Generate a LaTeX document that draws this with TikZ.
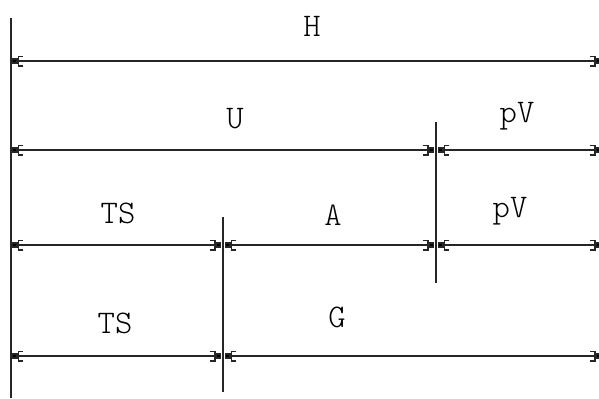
\documentclass[tikz,border=0pt]{standalone}
\usetikzlibrary{arrows.meta}
\tikzset{
  ink/.style={line width=1.4bp, draw=black!85},
  wall/.style={ink},
  sq/.tip={Square[length=5.5bp,width=5.5bp,fill=black]},
  br/.tip={Bracket[width=11bp,length=5bp,line width=1.4bp]},
  dimline/.style={ink, {sq[] br[]}-{br[] sq[]}},
  lbl/.style={anchor=base, inner sep=0pt, font=\fontseries{l}\ttfamily\fontsize{33bp}{33bp}\selectfont, text=black}
}
\begin{document}
\begin{tikzpicture}[x=1bp,y=-1bp]
\useasboundingbox (0,0) rectangle (599,398);
% walls
\coordinate (w0t) at (11,18);   \coordinate (w0b) at (11,398);
\coordinate (w1t) at (223,217); \coordinate (w1b) at (223,392);
\coordinate (w2t) at (436,122); \coordinate (w2b) at (436,283);
\draw[wall] (w0t) -- (w0b);
\draw[wall] (w1t) -- (w1b);
\draw[wall] (w2t) -- (w2b);
% line end points
\coordinate (h0) at (12,61);  \coordinate (h1) at (601,61);
\coordinate (u0) at (12,150); \coordinate (u1) at (434,150);
\coordinate (p0) at (438,150); \coordinate (p1) at (601,150);
\coordinate (t0) at (12,245); \coordinate (t1) at (221,245);
\coordinate (a0) at (225,245); \coordinate (a1) at (434,245);
\coordinate (q0) at (438,245); \coordinate (q1) at (601,245);
\coordinate (s0) at (12,356); \coordinate (s1) at (221,356);
\coordinate (g0) at (225,356); \coordinate (g1) at (601,356);
\draw[dimline] (h0) -- (h1);
\draw[dimline] (u0) -- (u1);
\draw[dimline] (p0) -- (p1);
\draw[dimline] (t0) -- (t1);
\draw[dimline] (a0) -- (a1);
\draw[dimline] (q0) -- (q1);
\draw[dimline] (s0) -- (s1);
\draw[dimline] (g0) -- (g1);
% labels
\node[lbl] (lH) at (312,36) {H};
\node[lbl] (lU) at (235,128) {U};
\node[lbl] (lpV1) at (517,122) {pV};
\node[lbl] (lTS1) at (118,223) {TS};
\node[lbl] (lA) at (333,225) {A};
\node[lbl] (lpV2) at (510,217) {pV};
\node[lbl] (lTS2) at (115,333) {TS};
\node[lbl] (lG) at (337,327) {G};
\end{tikzpicture}
\end{document}
